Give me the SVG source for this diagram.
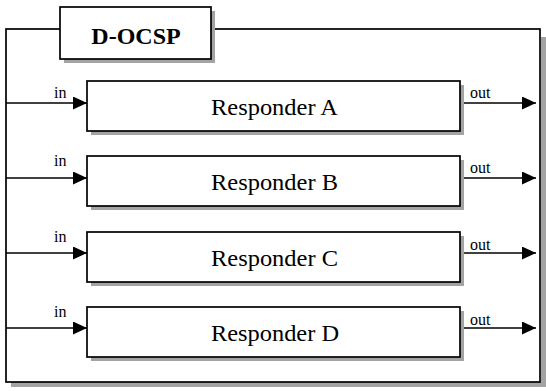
<svg xmlns="http://www.w3.org/2000/svg" width="546" height="391" viewBox="0 0 546 391">
  <defs>
    <style>
      .box { fill: #ffffff; stroke: #000000; stroke-width: 1.7; }
      .shadow { fill: #a3a3a3; }
      .line { stroke: #000000; stroke-width: 1.5; fill: none; }
      text { font-family: 'Liberation Serif', 'Times New Roman', serif; fill: #000000; }
      .title { font-weight: bold; font-size: 24px; }
      .name { font-size: 23px; }
      .lbl { font-size: 16px; }
    </style>
    <marker id="arrow" markerUnits="userSpaceOnUse" markerWidth="14" markerHeight="13" refX="14" refY="6.5" orient="auto">
      <path d="M0,0 L14,6.5 L0,13 Z" fill="#000"/>
    </marker>
  </defs>

  <rect width="546" height="391" fill="#ffffff"/>

  <g id="frame">
    <rect class="shadow" x="541" y="37" width="5" height="350"/>
    <rect class="shadow" x="11" y="382" width="535" height="5"/>
    <rect class="box" x="6" y="29" width="534" height="353" fill="none"/>
  </g>

  <g id="title">
    <rect class="shadow" x="211" y="11" width="4" height="52"/>
    <rect class="shadow" x="64" y="59" width="151" height="4"/>
    <rect class="box" x="60" y="7" width="151" height="52"/>
    <text class="title" x="136" y="44" text-anchor="middle">D-OCSP</text>
  </g>

  <g id="responder-a">
    <rect class="shadow" x="460" y="85" width="4" height="50"/>
    <rect class="shadow" x="91" y="131" width="373" height="4"/>
    <rect class="box" x="87" y="81" width="373" height="50"/>
    <text class="name" x="211" y="115" textLength="127" lengthAdjust="spacingAndGlyphs">Responder A</text>
  </g>

  <g id="responder-b">
    <rect class="shadow" x="460" y="160" width="4" height="50"/>
    <rect class="shadow" x="91" y="206" width="373" height="4"/>
    <rect class="box" x="87" y="156" width="373" height="50"/>
    <text class="name" x="211" y="190" textLength="127" lengthAdjust="spacingAndGlyphs">Responder B</text>
  </g>

  <g id="responder-c">
    <rect class="shadow" x="460" y="236" width="4" height="50"/>
    <rect class="shadow" x="91" y="282" width="373" height="4"/>
    <rect class="box" x="87" y="232" width="373" height="50"/>
    <text class="name" x="211" y="266" textLength="127" lengthAdjust="spacingAndGlyphs">Responder C</text>
  </g>

  <g id="responder-d">
    <rect class="shadow" x="460" y="311" width="4" height="50"/>
    <rect class="shadow" x="91" y="357" width="373" height="4"/>
    <rect class="box" x="87" y="307" width="373" height="50"/>
    <text class="name" x="211" y="341" textLength="128" lengthAdjust="spacingAndGlyphs">Responder D</text>
  </g>

  <g id="connectors">
    <line class="line" x1="6" y1="103" x2="87" y2="103" marker-end="url(#arrow)"/>
    <line class="line" x1="6" y1="178" x2="87" y2="178" marker-end="url(#arrow)"/>
    <line class="line" x1="6" y1="253" x2="87" y2="253" marker-end="url(#arrow)"/>
    <line class="line" x1="6" y1="328" x2="87" y2="328" marker-end="url(#arrow)"/>
    <line class="line" x1="464" y1="103" x2="536" y2="103" marker-end="url(#arrow)"/>
    <line class="line" x1="464" y1="178" x2="536" y2="178" marker-end="url(#arrow)"/>
    <line class="line" x1="464" y1="253" x2="536" y2="253" marker-end="url(#arrow)"/>
    <line class="line" x1="464" y1="328" x2="536" y2="328" marker-end="url(#arrow)"/>
    <text class="lbl" x="54" y="98">in</text>
    <text class="lbl" x="54" y="166">in</text>
    <text class="lbl" x="54" y="242">in</text>
    <text class="lbl" x="54" y="317">in</text>
    <text class="lbl" x="470" y="98">out</text>
    <text class="lbl" x="470" y="173">out</text>
    <text class="lbl" x="470" y="250">out</text>
    <text class="lbl" x="470" y="325">out</text>
  </g>
</svg>
